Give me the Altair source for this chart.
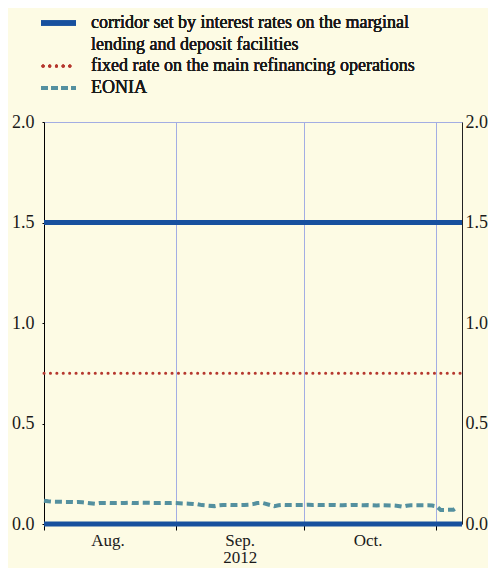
import altair as alt
import pandas as pd

# ---------------- data ----------------
x_start = "2012-08-01"
x_end = "2012-11-07"
month_starts = ["2012-08-01", "2012-09-01", "2012-10-01", "2012-11-01"]
month_labels = ["Aug.", "Sep.", "Oct."]
month_label_dates = ["2012-08-16", "2012-09-16", "2012-10-16"]
year_label = "2012"
year_under_month = "Sep."

corridor_upper = 1.50   # marginal lending facility
corridor_lower = 0.00   # deposit facility
fixed_rate = 0.75       # main refinancing operations

eonia_aug = [0.116, 0.113, 0.111, 0.110, 0.110, 0.109, 0.110, 0.108, 0.101, 0.104,
             0.105, 0.105, 0.104, 0.105, 0.106, 0.104, 0.105, 0.106, 0.105, 0.104,
             0.105, 0.104, 0.105]
eonia_sep = [0.102, 0.101, 0.100, 0.098, 0.094, 0.089, 0.093, 0.095, 0.095, 0.094,
             0.095, 0.096, 0.099, 0.104, 0.106, 0.089, 0.093, 0.095, 0.094, 0.095]
eonia_oct = [0.095, 0.096, 0.094, 0.095, 0.094, 0.095, 0.094, 0.093, 0.094, 0.095,
             0.093, 0.094, 0.093, 0.092, 0.093, 0.092, 0.090, 0.086, 0.091, 0.093,
             0.093, 0.093, 0.092]
eonia_nov = [0.088, 0.070, 0.071, 0.085]
eonia_dates = pd.bdate_range("2012-08-01", "2012-11-06")

legend_labels = ["corridor set by interest rates on the marginal",
                 "lending and deposit facilities",
                 "fixed rate on the main refinancing operations",
                 "EONIA"]

# ---------------- styles ----------------
BLUE = "#17509E"
RED = "#B5372E"
TEAL = "#54909F"
GRID = "#A3ADE3"
BG = "#FDFBE4"
FONT = "Liberation Serif"
FS = 18
FSX = 17
TXT = "#1A1A1A"

eonia = pd.DataFrame({"date": eonia_dates,
                      "value": eonia_aug + eonia_sep + eonia_oct + eonia_nov})
corridor = pd.DataFrame({
    "date": pd.to_datetime([x_start, x_end, x_start, x_end]),
    "value": [corridor_upper, corridor_upper, corridor_lower, corridor_lower],
    "series": ["upper", "upper", "lower", "lower"],
})
fixed = pd.DataFrame({"date": pd.to_datetime([x_start, x_end]),
                      "value": [fixed_rate, fixed_rate]})
tick_text = [m + ("\n" + year_label if m == year_under_month else "") for m in month_labels]
mlab = pd.DataFrame({"date": pd.to_datetime(month_label_dates), "label": tick_text})


def dt(s):
    t = pd.Timestamp(s)
    return alt.DateTime(year=t.year, month=t.month, date=t.day)


xscale = alt.Scale(domain=[dt(x_start), dt(x_end)])
xaxis = alt.Axis(values=[dt(s) for s in month_starts], grid=True, gridColor=GRID,
                 gridWidth=1, labels=False, domain=False, ticks=True, tickSize=6,
                 tickColor="black", tickWidth=1, title=None)
X = alt.X("date:T", scale=xscale, axis=xaxis)

yscale = alt.Scale(domain=[0, 2], nice=False, zero=True)
yaxis_left = alt.Axis(values=[0, 0.5, 1.0, 1.5, 2.0], format=".1f", grid=False,
                      domainColor="black", domainWidth=1, tickSize=2, tickColor="black",
                      labelPadding=8, labelFont=FONT, labelFontSize=FS, labelColor=TXT,
                      title=None)
yaxis_right = alt.Axis(values=[0, 0.5, 1.0, 1.5, 2.0], format=".1f", grid=False,
                       orient="right", domainColor="#222", domainWidth=1, tickSize=0,
                       labelPadding=3, labelFont=FONT, labelFontSize=FS, labelColor=TXT,
                       title=None)
Y = alt.Y("value:Q", scale=yscale, axis=yaxis_left)

fixed_line = alt.Chart(fixed).mark_line(
    color=RED, strokeWidth=3, strokeDash=[0.1, 6.3], strokeCap="round"
).encode(x=X, y=Y)

eonia_line = alt.Chart(eonia).mark_line(
    color=TEAL, strokeWidth=4, strokeDash=[7, 4]
).encode(x=X, y=Y)

corr_line = alt.Chart(corridor).mark_line(color=BLUE, strokeWidth=5).encode(
    x=X, y=Y, detail="series:N")

month_text = alt.Chart(mlab).mark_text(
    font=FONT, fontSize=FSX, color=TXT, baseline="top", align="center",
    lineBreak="\n", lineHeight=17
).encode(x=X, y=alt.value(411), text="label:N")

# legend (drawn in the top padding)
leg_y = [-99, -77, -56, -34]
leg_blue = alt.Chart(corridor).mark_rule(color=BLUE, strokeWidth=5).encode(
    x=alt.value(-3), x2=alt.value(32), y=alt.value(leg_y[0]))
leg_red = alt.Chart(corridor).mark_rule(
    color=RED, strokeWidth=3, strokeDash=[0.1, 6.6], strokeCap="round").encode(
    x=alt.value(-1), x2=alt.value(32), y=alt.value(leg_y[2]))
leg_teal = alt.Chart(corridor).mark_rule(
    color=TEAL, strokeWidth=4, strokeDash=[7, 3]).encode(
    x=alt.value(-3), x2=alt.value(32), y=alt.value(leg_y[3]))
leg_texts = [
    alt.Chart(corridor).mark_text(text=lab, font=FONT, fontSize=FS, color=TXT,
                                  align="left", baseline="middle").encode(
        x=alt.value(47), y=alt.value(yy))
    for lab, yy in zip(legend_labels, leg_y)
]

left_group = alt.layer(fixed_line, eonia_line, corr_line, month_text,
                       leg_blue, leg_red, leg_teal, *leg_texts)

right_dummy = alt.Chart(fixed).mark_line(opacity=0).encode(
    x=X, y=alt.Y("value:Q", scale=yscale, axis=yaxis_right))

chart = alt.layer(left_group, right_dummy).resolve_scale(y="independent").properties(
    width=418, height=402,
    autosize=alt.AutoSizeParams(type="none"),
    padding={"left": 36, "top": 114, "right": 26, "bottom": 44},
    background=BG,
).configure_view(stroke=GRID, strokeWidth=1)

chart.save("out.html", embed_options={"renderer": "svg", "actions": False})
